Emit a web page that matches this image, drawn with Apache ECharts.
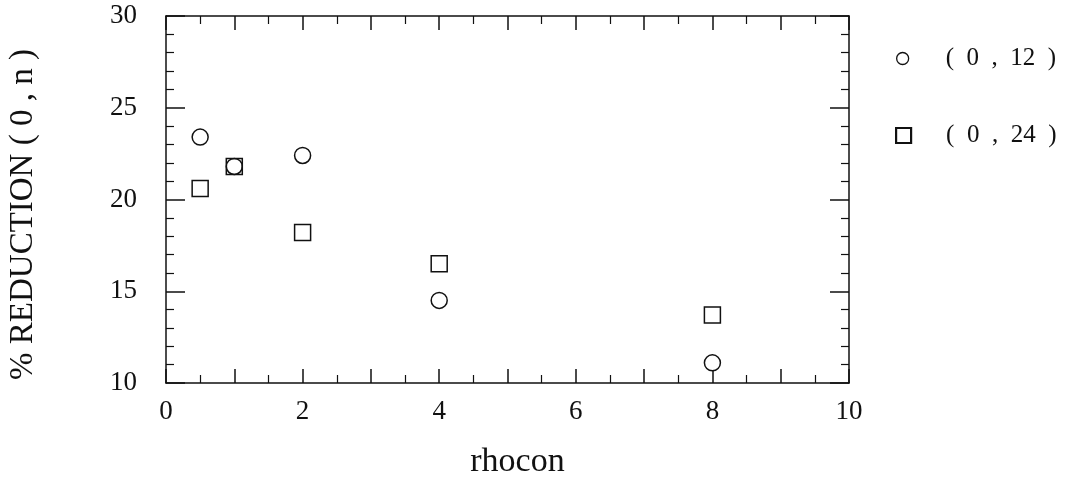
<!DOCTYPE html>
<html>
<head>
<meta charset="utf-8">
<script src="https://cdn.jsdelivr.net/npm/echarts@6/dist/echarts.min.js"></script>
<style>
  html, body { margin: 0; padding: 0; background: #fff; }
  #chart { width: 1068px; height: 478px; }
</style>
</head>
<body>
<div id="chart"></div>
<script>
// rhocon values and % reduction for each series
const rhocon = [0.5, 1, 2, 4, 8];
const red12 = [23.4, 21.8, 22.4, 14.5, 11.1];
const red24 = [20.6, 21.8, 18.2, 16.5, 13.7];
const seriesNames = ['( 0 , 12 )', '( 0 , 24 )'];

const serif = '"Liberation Serif", "DejaVu Serif", serif';
const ink = '#111';

const chart = echarts.init(document.getElementById('chart'));

function xAxisBase(pos, showLabel) {
    return {
        type: 'value', position: pos, min: 0, max: 10, interval: 1,
        axisLine: { show: true, onZero: false, lineStyle: { color: ink, width: 1.5 } },
        axisTick: { show: true, inside: true, length: 14, lineStyle: { color: ink, width: 1.5 } },
        minorTick: { show: true, splitNumber: 2, length: 8, lineStyle: { color: ink, width: 1.2 } },
        splitLine: { show: false },
        axisLabel: {
            show: showLabel, color: ink, fontFamily: serif, fontSize: 27, margin: 15,
            formatter: v => (v % 2 === 0 ? String(v) : '')
        }
    };
}

function yAxisBase(pos, showLabel) {
    return {
        type: 'value', position: pos, min: 10, max: 30, interval: 5,
        axisLine: { show: true, onZero: false, lineStyle: { color: ink, width: 1.5 } },
        axisTick: { show: true, inside: true, length: 19, lineStyle: { color: ink, width: 1.5 } },
        minorTick: { show: true, splitNumber: 5, length: 8, lineStyle: { color: ink, width: 1.2 } },
        splitLine: { show: false },
        axisLabel: { show: showLabel, color: ink, fontFamily: serif, fontSize: 27, margin: 29 }
    };
}

const xBottom = xAxisBase('bottom', true);
xBottom.name = 'rhocon';
xBottom.nameLocation = 'middle';
xBottom.nameGap = 62;
xBottom.nameMoveOverlap = false;
xBottom.nameTextStyle = { color: ink, fontFamily: serif, fontSize: 34, padding: [0, 0, 0, 20] };

const yLeft = yAxisBase('left', true);
yLeft.name = '% REDUCTION ( 0 , n )';
yLeft.nameLocation = 'middle';
yLeft.nameGap = 126;
yLeft.nameMoveOverlap = false;
yLeft.nameTextStyle = { color: ink, fontFamily: serif, fontSize: 33, padding: [0, 30, 0, 0] };

const legendText = { color: ink, fontFamily: serif, fontSize: 25 };

chart.setOption({
    backgroundColor: '#fff',
    animation: false,
    grid: { left: 166, right: 219, top: 16, bottom: 95, containLabel: false, outerBoundsMode: 'none' },
    xAxis: [xBottom, xAxisBase('top', false)],
    yAxis: [yLeft, yAxisBase('right', false)],
    legend: [
        {
            data: [seriesNames[0]], orient: 'vertical', left: 891, top: 41,
            itemWidth: 12, itemHeight: 12,
            itemStyle: { color: '#fff', borderColor: ink, borderWidth: 1.3 },
            textStyle: Object.assign({ padding: [0, 0, 0, 32] }, legendText),
            formatter: n => n.replace(/ /g, '  ')
        },
        {
            data: [seriesNames[1]], orient: 'vertical', left: 890, top: 118,
            itemWidth: 15, itemHeight: 15,
            itemStyle: { color: '#fff', borderColor: ink, borderWidth: 2.2 },
            textStyle: Object.assign({ padding: [0, 0, 0, 30] }, legendText),
            formatter: n => n.replace(/ /g, '  ')
        }
    ],
    series: [
        {
            name: seriesNames[0], type: 'scatter', symbol: 'circle', symbolSize: 16,
            itemStyle: { color: '#fff', borderColor: ink, borderWidth: 1.5, opacity: 1 },
            data: rhocon.map((x, i) => [x, red12[i]])
        },
        {
            name: seriesNames[1], type: 'scatter', symbol: 'rect', symbolSize: 16,
            itemStyle: { color: 'rgba(255,255,255,0)', borderColor: ink, borderWidth: 1.5, opacity: 1 },
            data: rhocon.map((x, i) => [x, red24[i]])
        }
    ]
});
</script>
</body>
</html>
